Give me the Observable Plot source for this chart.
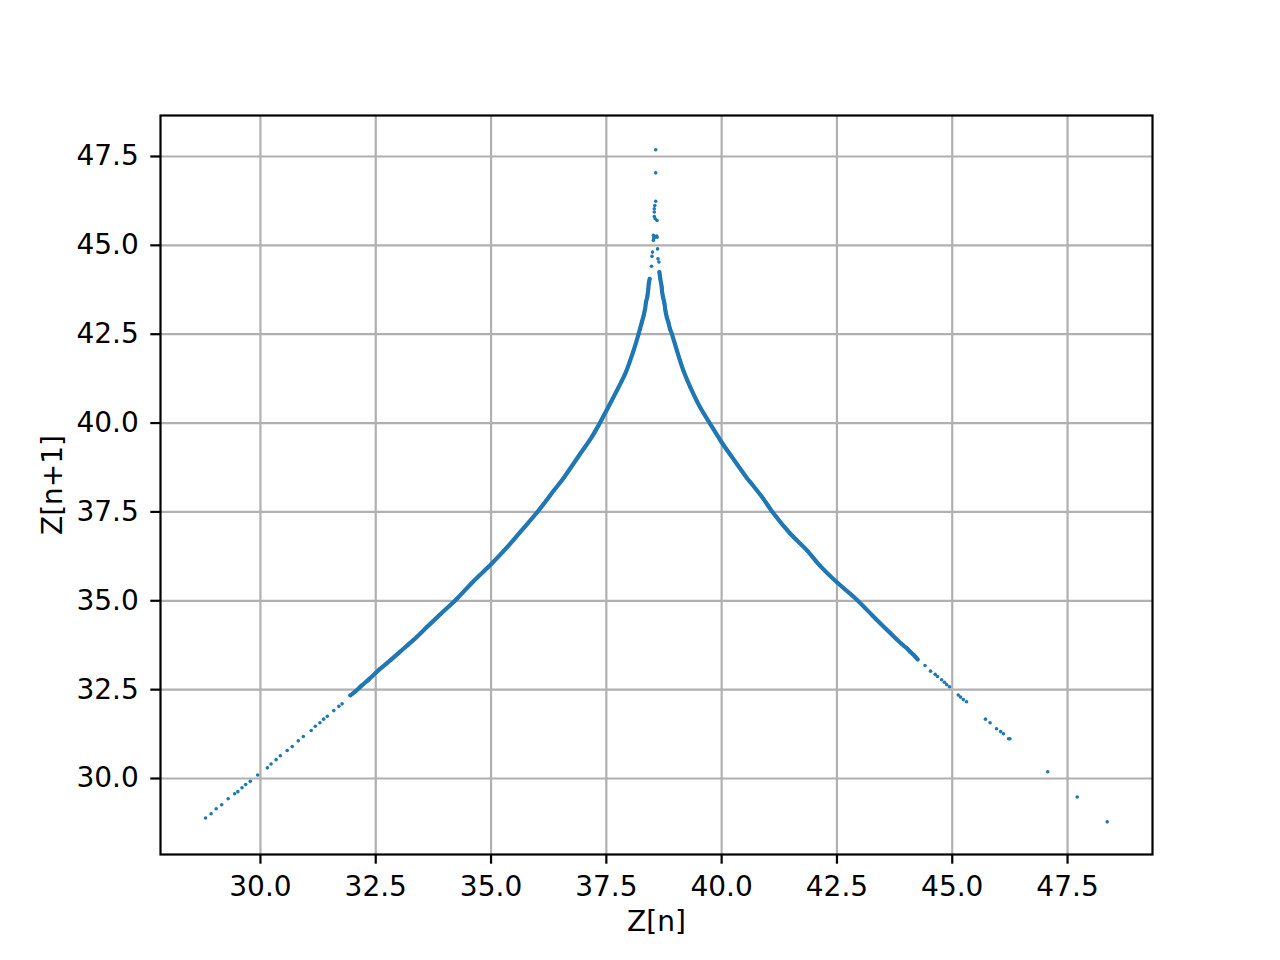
<!DOCTYPE html>
<html>
<head>
<meta charset="utf-8">
<script src="https://cdn.jsdelivr.net/npm/d3@7"></script>
<script src="https://cdn.jsdelivr.net/npm/@observablehq/plot@0.6"></script>
<style>
  html, body { margin: 0; padding: 0; background: #ffffff; }
  #chart { width: 1280px; height: 960px; }
</style>
</head>
<body>
<div id="chart"></div>
<script>
// Tick values
const xTicks = [30.0, 32.5, 35.0, 37.5, 40.0, 42.5, 45.0, 47.5];
const yTicks = [30.0, 32.5, 35.0, 37.5, 40.0, 42.5, 45.0, 47.5];

// Points [Z[n], Z[n+1]]
const leftTail = [[28.81,28.89],[28.93,29.01],[29.04,29.15],[29.16,29.26],[29.30,29.43],[29.44,29.57],[29.51,29.63],[29.60,29.74],[29.68,29.83],[29.78,29.92],[29.94,30.10],[30.15,30.30],[30.23,30.41],[30.34,30.53],[30.43,30.64],[30.58,30.79],[30.69,30.90],[30.82,31.06],[30.93,31.18],[31.10,31.35],[31.19,31.47],[31.29,31.57],[31.37,31.67],[31.45,31.75],[31.59,31.91],[31.70,32.03],[31.77,32.10]];
const leftBody = [[31.95,32.34],[32.06,32.45],[32.20,32.62],[32.35,32.79],[32.60,33.09],[32.82,33.33],[33.03,33.57],[33.32,33.90],[33.61,34.26],[33.90,34.62],[34.26,35.06],[34.62,35.55],[35.01,36.04],[35.35,36.51],[35.63,36.93],[36.00,37.49],[36.28,37.96],[36.36,38.10],[36.57,38.45],[36.93,39.13],[37.19,39.62],[37.37,40.03],[37.62,40.64],[37.84,41.20],[37.91,41.39],[38.09,42.04],[38.20,42.51],[38.23,42.65],[38.27,42.84],[38.31,43.03],[38.34,43.21],[38.36,43.40],[38.39,43.57],[38.41,43.78],[38.42,43.92],[38.44,44.06]];
const peak = [[38.48,44.41],[38.49,44.69],[38.50,44.81],[38.52,45.14],[38.52,45.28],[38.53,45.20],[38.54,45.23],[38.59,45.26],[38.60,45.23],[38.61,44.90],[38.62,44.62],[38.64,44.53],[38.60,45.70],[38.56,45.75],[38.54,45.81],[38.54,45.94],[38.54,46.03],[38.55,46.12],[38.57,46.24],[38.57,47.04],[38.57,47.69]];
const rightBody = [[38.65,44.25],[38.67,44.06],[38.70,43.83],[38.71,43.68],[38.73,43.54],[38.76,43.36],[38.78,43.17],[38.81,42.98],[38.85,42.81],[38.88,42.65],[38.92,42.51],[39.03,42.04],[39.17,41.48],[39.32,41.01],[39.53,40.45],[39.75,39.98],[40.00,39.46],[40.33,38.85],[40.55,38.45],[40.62,38.34],[40.91,37.86],[41.09,37.52],[41.48,36.90],[41.85,36.42],[42.13,35.99],[42.50,35.52],[42.93,35.03],[43.29,34.56],[43.65,34.10],[43.90,33.79],[44.01,33.67],[44.10,33.55],[44.16,33.48],[44.25,33.35]];
const rightTail = [[44.41,33.18],[44.53,33.02],[44.63,32.93],[44.68,32.87],[44.77,32.78],[44.83,32.71],[44.88,32.64],[44.94,32.58],[45.13,32.35],[45.18,32.29],[45.24,32.22],[45.31,32.16],[45.72,31.67],[45.82,31.57],[45.96,31.40],[46.05,31.32],[46.11,31.26],[46.22,31.12],[46.25,31.12],[47.07,30.19],[47.71,29.48],[48.36,28.78]];

const xLabel = "Z[n]";
const yLabel = "Z[n+1]";

const allPts = [...leftTail, ...leftBody, ...peak, ...rightBody, ...rightTail];
const BLUE = "#1f77b4";
const GRID = "#b0b0b0";
const LW = 2.2;

const chart = Plot.plot({
  width: 1280,
  height: 960,
  marginLeft: 160,
  marginRight: 128,
  marginTop: 115,
  marginBottom: 106,
  style: { fontFamily: "DejaVu Sans, sans-serif", fontSize: "28px", background: "#ffffff", color: "#000000" },
  x: { domain: [27.833, 49.342], ticks: xTicks, tickFormat: d3.format(".1f"), tickSize: 9.7, tickPadding: 12, label: null },
  y: { domain: [27.862, 48.653], ticks: yTicks, tickFormat: d3.format(".1f"), tickSize: 9.7, tickPadding: 12, label: null },
  marks: [
    Plot.ruleX(xTicks, { x: d => d, stroke: GRID, strokeWidth: LW }),
    Plot.ruleY(yTicks, { y: d => d, stroke: GRID, strokeWidth: LW }),
    Plot.line(leftBody, { x: d => d[0], y: d => d[1], stroke: BLUE, strokeWidth: 4.2, curve: "catmull-rom" }),
    Plot.line(rightBody, { x: d => d[0], y: d => d[1], stroke: BLUE, strokeWidth: 4.2, curve: "catmull-rom" }),
    Plot.dot(allPts, { x: d => d[0], y: d => d[1], r: 1.8, fill: BLUE, stroke: "none" }),
    Plot.frame({ stroke: "#000000", strokeWidth: LW }),
    Plot.text([xLabel], { text: d => d, frameAnchor: "bottom", dy: 68, fontSize: 28, fill: "#000000", lineAnchor: "middle", textAnchor: "middle" }),
    Plot.text([yLabel], { text: d => d, frameAnchor: "left", dx: -107, rotate: -90, fontSize: 28, fill: "#000000", lineAnchor: "middle", textAnchor: "middle" })
  ]
});

document.getElementById("chart").appendChild(chart);

// Thicken tick marks like matplotlib
chart.querySelectorAll('g[aria-label^="x-axis"] line, g[aria-label^="y-axis"] line, g[aria-label="x-axis tick"] path, g[aria-label="y-axis tick"] path, g[aria-label="x-axis"] path, g[aria-label="y-axis"] path').forEach(el => {
  el.setAttribute("stroke-width", LW);
  el.setAttribute("stroke", "#000000");
});
</script>
</body>
</html>
